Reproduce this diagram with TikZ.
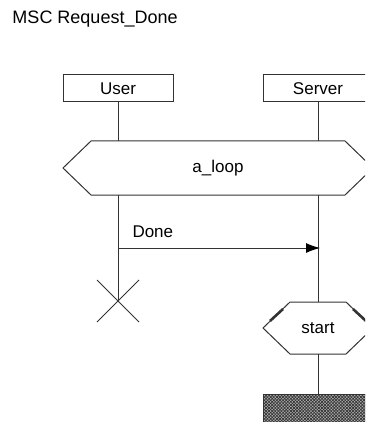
\documentclass[tikz,border=0pt]{standalone}
\usepackage{fontspec}
\setmainfont{Liberation Sans}
\usetikzlibrary{arrows.meta,patterns.meta,calc}
\definecolor{ink}{gray}{0.2}
\begin{document}
\begin{tikzpicture}[x=1pt,y=-1pt,line width=1pt,draw=ink,
  txt/.style={font=\fontsize{17}{17}\selectfont, inner sep=0pt, text=black},
  inst/.style={draw=ink, txt, minimum width=110pt, minimum height=27pt},
  msg/.style={draw=ink, -{Latex[length=14pt,width=10pt,black]}, shorten >=-2pt},
  thickedge/.style={line width=2.6pt}]
\clip (0,0) rectangle (365,422);
% title
\node[txt, anchor=west, font=\fontsize{18}{18}\selectfont] (title) at (12,19) {MSC Request\_Done};
% instance heads
\node[inst] (user) at (118,88.5) {User};
\node[inst] (server) at (318,88.5) {Server};
% loop condition spanning both instances
\coordinate (loopL) at (63,168);
\coordinate (loopR) at (373,168);
\draw (loopL) -- (91,141) -- (345,141) -- (loopR) -- (345,195) -- (91,195) -- cycle;
\node[txt] (loop) at (218,168) {a\_loop};
\coordinate (uLoopTop) at (118,141);
\coordinate (uLoopBot) at (118,195);
\coordinate (sLoopTop) at (318,141);
\coordinate (sLoopBot) at (318,195);
% user lifeline, ending in a stop cross
\coordinate (uStop) at (118,301);
\draw (user.south) -- (uLoopTop);
\draw (uLoopBot) -- (uStop);
\draw ($(uStop)+(-21,-21)$) -- ($(uStop)+(21,21)$);
\draw ($(uStop)+(-21,21)$) -- ($(uStop)+(21,-21)$);
% server lifeline
\coordinate (sStart) at (318,302);
\draw (server.south) -- (sLoopTop);
\draw (sLoopBot) -- (sStart);
% message
\coordinate (mFrom) at (118,248);
\coordinate (mTo) at (318,248);
\draw[msg] (mFrom) -- (mTo);
\node[txt, anchor=south west] (done) at (132,238.5) {Done};
% start condition on the server
\draw (263,328) -- (290,302) -- (346,302) -- (373,328) -- (346,354) -- (290,354) -- cycle;
\draw[thickedge] (270,321) -- (283,309);
\draw[thickedge] (353,309) -- (366,321);
\node[txt] (start) at (318,328) {start};
\coordinate (sEnd) at (318,354);
\coordinate (sFoot) at (318,394);
\draw (sEnd) -- (sFoot);
% hatched instance end
\path[fill=black!30] (263,394) rectangle (373,430);
\path[pattern={Lines[angle=45,distance=2.2pt,line width=0.7pt]},pattern color=black!80] (263,394) rectangle (373,430);
\path[pattern={Lines[angle=-45,distance=2.2pt,line width=0.7pt]},pattern color=black!80] (263,394) rectangle (373,430);
\draw (263,430) -- (263,394) -- (373,394);
\end{tikzpicture}
\end{document}
